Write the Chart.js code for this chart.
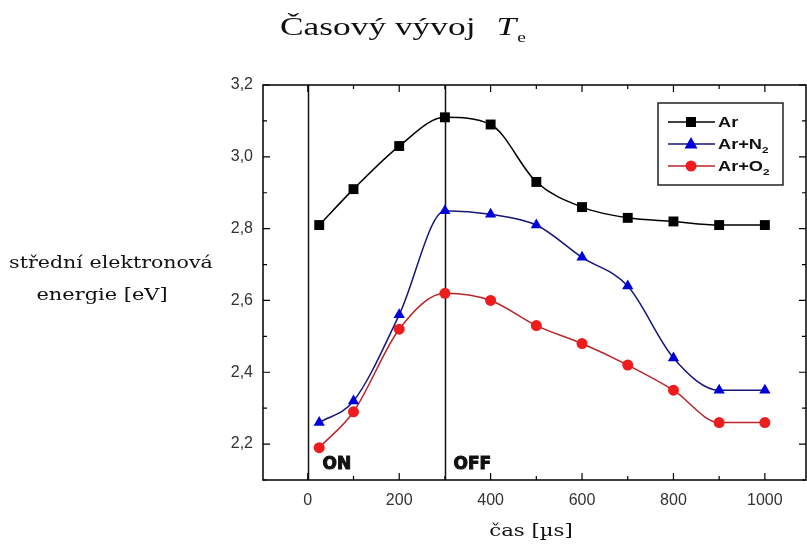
<!DOCTYPE html>
<html>
<head>
<meta charset="utf-8">
<script src="https://cdn.jsdelivr.net/npm/chart.js@4.4.1/dist/chart.umd.min.js"></script>
<style>
  html, body { margin: 0; padding: 0; background: #fff; }
</style>
</head>
<body>
<canvas id="teChart" width="807" height="547"></canvas>
<script>
// ===== Data =====
const casy = [25, 100, 200, 300, 400, 500, 600, 700, 800, 900, 1000];
const arValues = [2.81, 2.91, 3.03, 3.11, 3.09, 2.93, 2.86, 2.83, 2.82, 2.81, 2.81];
const arN2Values = [2.26, 2.32, 2.56, 2.85, 2.84, 2.81, 2.72, 2.64, 2.44, 2.35, 2.35];
const arO2Values = [2.19, 2.29, 2.52, 2.62, 2.60, 2.53, 2.48, 2.42, 2.35, 2.26, 2.26];
const seriesNames = ['Ar', 'Ar+N2', 'Ar+O2'];
const xTicks = [0, 200, 400, 600, 800, 1000];
const yTicks = [2.2, 2.4, 2.6, 2.8, 3.0, 3.2];
const pulseMarks = [{ x: 0, label: 'ON' }, { x: 300, label: 'OFF' }];

const toPoints = (ys) => casy.map((x, i) => ({ x, y: ys[i] }));

// text roztažený vodorovně (předloha je roztažená)
function wideText(ctx, text, x, y, sx, align) {
  ctx.save();
  ctx.translate(x, y);
  ctx.scale(sx, 1);
  ctx.textAlign = align || 'left';
  ctx.fillText(text, 0, 0);
  const w = ctx.measureText(text).width * sx;
  ctx.restore();
  return w;
}

// ===== Svislé čáry ON / OFF =====
const pulsePlugin = {
  id: 'pulse',
  beforeDatasetsDraw(chart) {
    const { ctx, chartArea: a, scales: { x } } = chart;
    ctx.save();
    pulseMarks.forEach(m => {
      const px = Math.round(x.getPixelForValue(m.x)) + 0.5;
      ctx.strokeStyle = '#111';
      ctx.lineWidth = 1.5;
      ctx.beginPath();
      ctx.moveTo(px, a.top);
      ctx.lineTo(px, a.bottom);
      ctx.stroke();
      ctx.font = 'bold 17px "DejaVu Sans"';
      ctx.fillStyle = '#111';
      ctx.lineWidth = 1;
      const tx = px + (m.x === 0 ? 14 : 8);
      ctx.fillText(m.label, tx, a.bottom - 11);
      ctx.strokeText(m.label, tx, a.bottom - 11);
    });
    ctx.restore();
  }
};

// ===== Rámeček, ticky, popisky, legenda =====
function drawMarker(ctx, style, x, y, color) {
  ctx.fillStyle = color;
  ctx.beginPath();
  if (style === 'rect') {
    ctx.rect(x - 5, y - 5, 10, 10);
  } else if (style === 'triangle') {
    ctx.moveTo(x, y - 7);
    ctx.lineTo(x + 6.5, y + 4.5);
    ctx.lineTo(x - 6.5, y + 4.5);
    ctx.closePath();
  } else {
    ctx.arc(x, y, 5.5, 0, Math.PI * 2);
  }
  ctx.fill();
}

const framePlugin = {
  id: 'frame',
  afterDraw(chart) {
    const { ctx, chartArea: a, scales: { x, y } } = chart;
    ctx.save();
    ctx.strokeStyle = '#000';
    ctx.lineWidth = 1.5;
    ctx.strokeRect(a.left, a.top, a.right - a.left, a.bottom - a.top);

    // ticky dovnitř, na všech stranách
    ctx.lineWidth = 1.2;
    for (let k = Math.ceil(x.min / 100); k * 100 <= x.max; k++) {
      const v = k * 100;
      const len = xTicks.includes(v) ? 7 : 4;
      const px = x.getPixelForValue(v);
      ctx.beginPath();
      ctx.moveTo(px, a.bottom); ctx.lineTo(px, a.bottom - len);
      ctx.moveTo(px, a.top); ctx.lineTo(px, a.top + len);
      ctx.stroke();
    }
    for (let k = Math.ceil(y.min * 10 - 1e-6); k <= Math.floor(y.max * 10 + 1e-6); k++) {
      const v = k / 10;
      const len = yTicks.some(t => Math.abs(t - v) < 1e-6) ? 7 : 4;
      const py = y.getPixelForValue(v);
      ctx.beginPath();
      ctx.moveTo(a.left, py); ctx.lineTo(a.left + len, py);
      ctx.moveTo(a.right, py); ctx.lineTo(a.right - len, py);
      ctx.stroke();
    }

    // titulek
    ctx.fillStyle = '#111';
    ctx.textBaseline = 'alphabetic';
    ctx.font = '26px "Liberation Serif"';
    const w = wideText(ctx, 'Časový vývoj', 280, 35, 1.36);
    ctx.font = 'italic 26px "Liberation Serif"';
    const wt = wideText(ctx, 'T', 280 + w + 21, 35, 1.36);
    ctx.font = '15px "Liberation Serif"';
    wideText(ctx, 'e', 280 + w + 21 + wt + 1, 42, 1.3);

    // popisky os
    ctx.font = '17px "DejaVu Serif"';
    wideText(ctx, 'střední elektronová', 111, 268, 1.21, 'center');
    wideText(ctx, 'energie [eV]', 102, 300, 1.23, 'center');
    wideText(ctx, 'čas [µs]', 531, 536, 1.25, 'center');

    // legenda
    ctx.lineWidth = 1.5;
    ctx.strokeStyle = '#222';
    ctx.strokeRect(658, 103, 125, 82);
    const rowsY = [122, 144, 166];
    chart.data.datasets.forEach((ds, i) => {
      const ry = rowsY[i];
      ctx.strokeStyle = ds.borderColor;
      ctx.lineWidth = 1.3;
      ctx.beginPath();
      ctx.moveTo(668, ry); ctx.lineTo(715, ry);
      ctx.stroke();
      drawMarker(ctx, ds.pointStyle, 691, ry, ds.pointBackgroundColor);
      const name = seriesNames[i];
      const m = name.match(/^(.*?)(\d)$/);
      ctx.fillStyle = '#111';
      ctx.font = 'bold 14px "Liberation Sans"';
      const main = m ? m[1] : name;
      const mw = wideText(ctx, main, 718, ry + 5, 1.3);
      if (m) {
        ctx.font = 'bold 9px "Liberation Sans"';
        wideText(ctx, m[2], 718 + mw, ry + 9, 1.3);
      }
    });
    ctx.restore();
  }
};

// ===== Graf =====
new Chart(document.getElementById('teChart'), {
  type: 'line',
  data: {
    datasets: [
      {
        label: seriesNames[0], data: toPoints(arValues),
        borderColor: '#000', borderWidth: 1.5, cubicInterpolationMode: 'monotone',
        pointStyle: 'rect', pointRadius: 7, pointBackgroundColor: '#000', pointBorderColor: '#000', pointBorderWidth: 0
      },
      {
        label: seriesNames[1], data: toPoints(arN2Values),
        borderColor: '#15157a', borderWidth: 1.5, cubicInterpolationMode: 'monotone',
        pointStyle: 'triangle', pointRadius: 6.5, pointBackgroundColor: '#0000dd', pointBorderColor: '#0000dd', pointBorderWidth: 0
      },
      {
        label: seriesNames[2], data: toPoints(arO2Values),
        borderColor: '#b8262a', borderWidth: 1.5, cubicInterpolationMode: 'monotone',
        pointStyle: 'circle', pointRadius: 5.5, pointBackgroundColor: '#ee1c1c', pointBorderColor: '#ee1c1c', pointBorderWidth: 0
      }
    ]
  },
  options: {
    responsive: false,
    animation: false,
    layout: { autoPadding: false, padding: { left: 0, top: 85, right: 1, bottom: 0 } },
    plugins: { legend: { display: false }, tooltip: { enabled: false }, title: { display: false } },
    scales: {
      x: {
        type: 'linear', min: -98, max: 1090,
        grid: { display: false, drawTicks: false },
        border: { display: false },
        afterBuildTicks: s => { s.ticks = xTicks.map(v => ({ value: v })); },
        afterFit: s => { s.height = 67; s.paddingLeft = 0; s.paddingRight = 0; },
        ticks: {
          padding: 11, color: '#333', font: { family: 'Liberation Sans', size: 16 },
          callback: v => String(v)
        }
      },
      y: {
        type: 'linear', min: 2.1, max: 3.2,
        grid: { display: false, drawTicks: false },
        border: { display: false },
        afterBuildTicks: s => { s.ticks = yTicks.map(v => ({ value: v })); },
        afterFit: s => { s.width = 263; },
        ticks: {
          padding: 10, color: '#333', font: { family: 'Liberation Sans', size: 16 },
          callback: v => v.toFixed(1).replace('.', ',')
        }
      }
    }
  },
  plugins: [pulsePlugin, framePlugin]
});
</script>
</body>
</html>
